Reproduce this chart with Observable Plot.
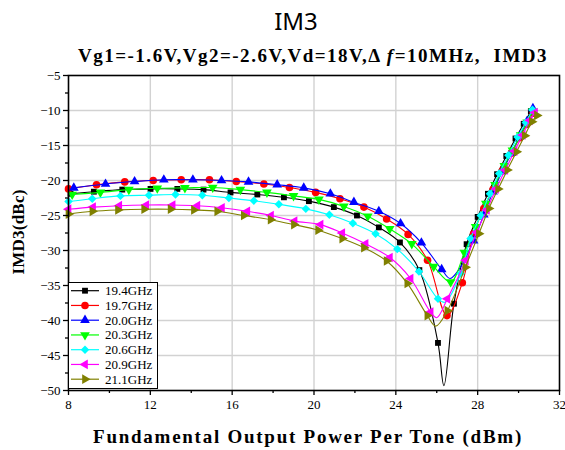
<!DOCTYPE html>
<html><head><meta charset="utf-8">
<script src="https://cdn.jsdelivr.net/npm/d3@7"></script>
<script src="https://cdn.jsdelivr.net/npm/@observablehq/plot@0.6"></script>
<style>
body{margin:0;background:#fff;}
#wrap{position:relative;width:565px;height:450px;overflow:hidden;background:#fff;}
.t{position:absolute;white-space:nowrap;color:#000;line-height:1;}
</style></head><body>
<div id="wrap"></div>
<script>
// ---- data ----
const xTicks = [8, 12, 16, 20, 24, 28, 32];
const xMinor = [10, 14, 18, 22, 26, 30];
const yTicks = [-5, -10, -15, -20, -25, -30, -35, -40, -45, -50];
const yMinor = [-7.5, -12.5, -17.5, -22.5, -27.5, -32.5, -37.5, -42.5, -47.5];
const xGrid = [12, 16, 20, 24, 28];
const yGrid = [-10, -15, -20, -25, -30, -35, -40, -45];

const labels = ["19.4GHz", "19.7GHz", "20.0GHz", "20.3GHz", "20.6GHz", "20.9GHz", "21.1GHz"];
const colors = ["#000000", "#ff0000", "#0000ff", "#00ff00", "#00ffff", "#ff00ff", "#808000"];

const p194 = [8.1, 9.24, 10.63, 12.01, 13.32, 14.6, 15.92, 17.23, 18.53, 19.75, 20.97, 22.1, 23.17, 24.2, 25.15, 26.06, 26.84, 27.46, 28.0, 28.5, 28.95, 29.4, 29.85, 30.25, 30.6];
const d194 = [-21.9, -21.6, -21.3, -21.2, -21.2, -21.3, -21.7, -22.0, -22.4, -22.95, -23.8, -25.0, -26.7, -28.85, -32.8, -43.2, -37.6, -29.1, -25.2, -21.9, -19.1, -16.5, -14.0, -11.9, -10.1];
const p194Dip = [26.35], d194Dip = [-49.3];

const p197 = [8.0, 9.37, 10.75, 12.14, 13.51, 14.89, 16.2, 17.55, 18.8, 20.08, 21.27, 22.44, 23.55, 24.6, 25.55, 26.5, 27.25, 27.8, 28.3, 28.75, 29.2, 29.65, 30.05, 30.4, 30.72];
const d197 = [-21.2, -20.6, -20.2, -20.0, -19.9, -19.9, -20.15, -20.5, -21.0, -21.7, -22.6, -23.8, -25.5, -27.7, -31.4, -39.3, -34.6, -27.6, -24.0, -21.3, -18.6, -16.1, -13.9, -12.0, -10.4];
const p197Dip = [], d197Dip = [];

const p200 = [8.26, 9.81, 11.23, 12.66, 14.08, 15.48, 16.8, 18.2, 19.5, 20.8, 21.95, 23.17, 24.23, 25.25, 26.24, 27.8, 28.3, 28.75, 29.2, 29.65, 30.05, 30.4, 30.7];
const d200 = [-21.05, -20.5, -20.15, -19.9, -19.9, -20.0, -20.2, -20.6, -21.05, -21.9, -23.1, -24.4, -26.15, -28.9, -32.7, -28.6, -24.9, -21.6, -18.7, -16.1, -13.7, -11.6, -9.7];
const p200Dip = [26.65, 27.2], d200Dip = [-34.0, -32.2];

const p203 = [8.18, 9.56, 10.95, 12.34, 13.69, 15.05, 16.4, 17.7, 19.0, 20.24, 21.46, 22.63, 23.7, 24.78, 25.85, 26.68, 27.35, 27.9, 28.4, 28.85, 29.3, 29.7, 30.1, 30.42, 30.7];
const d203 = [-22.0, -21.7, -21.3, -21.1, -21.05, -21.0, -21.3, -21.7, -22.2, -22.7, -23.7, -25.1, -26.9, -29.05, -32.3, -34.5, -30.3, -26.6, -23.3, -20.6, -17.9, -15.7, -13.5, -11.7, -10.1];
const p203Dip = [], d203Dip = [];

const p206 = [8.0, 9.16, 10.54, 11.93, 13.23, 14.54, 15.84, 17.06, 18.28, 19.6, 20.75, 21.9, 23.01, 24.07, 25.13, 26.06, 27.17, 27.65, 28.15, 28.6, 29.05, 29.5, 29.95, 30.35, 30.68];
const d206 = [-23.0, -22.6, -22.2, -22.1, -22.0, -22.1, -22.5, -22.9, -23.4, -24.05, -24.9, -26.1, -27.6, -29.8, -33.0, -36.9, -33.3, -28.3, -25.0, -21.9, -19.0, -16.4, -13.8, -11.7, -9.9];
const p206Dip = [26.4], d206Dip = [-37.4];

const p209 = [8.0, 9.2, 10.48, 11.8, 13.09, 14.3, 15.5, 16.74, 17.9, 19.05, 20.32, 21.38, 22.52, 23.71, 24.72, 25.7, 26.52, 27.42, 27.95, 28.45, 28.9, 29.35, 29.8, 30.2, 30.55, 30.8];
const d209 = [-24.1, -23.8, -23.6, -23.5, -23.5, -23.6, -23.9, -24.4, -25.0, -25.8, -26.3, -27.5, -29.05, -31.0, -34.0, -38.8, -36.9, -31.4, -27.4, -24.2, -21.2, -18.5, -15.8, -13.5, -11.4, -10.3];
const p209Dip = [26.0], d209Dip = [-39.6];

const p211 = [8.0, 9.17, 10.42, 11.7, 12.99, 14.13, 15.27, 16.57, 17.88, 19.02, 20.2, 21.38, 22.44, 23.55, 24.56, 25.54, 26.52, 27.4, 28.06, 28.55, 29.0, 29.45, 29.9, 30.3, 30.65, 30.9];
const d211 = [-24.8, -24.4, -24.2, -24.1, -24.1, -24.2, -24.4, -25.0, -25.6, -26.3, -27.1, -28.3, -29.6, -31.5, -34.7, -39.3, -38.6, -32.4, -27.6, -24.0, -21.2, -18.5, -15.9, -13.6, -11.6, -10.7];
const p211Dip = [25.95], d211Dip = [-40.8];

const symbols = ["square", "circle", "triangle", "triangle", "diamond2", "triangle", "triangle"];
const rotations = [0, 0, 0, 180, 0, -90, 90];
const sizes = [3.3, 3.8, 3.6, 3.6, 3.8, 3.6, 3.6];

// ---- build tables ----
const P = [p194, p197, p200, p203, p206, p209, p211];
const D = [d194, d197, d200, d203, d206, d209, d211];
const PD = [p194Dip, p197Dip, p200Dip, p203Dip, p206Dip, p209Dip, p211Dip];
const DD = [d194Dip, d197Dip, d200Dip, d203Dip, d206Dip, d209Dip, d211Dip];
const series = labels.map((name, i) => {
  const pts = P[i].map((x, j) => ({x, y: D[i][j]}));
  const line = pts.concat(PD[i].map((x, j) => ({x, y: DD[i][j]}))).sort((a, b) => a.x - b.x);
  return {name, color: colors[i], symbol: symbols[i], rotate: rotations[i], r: sizes[i], pts, line};
});

const gridStyle = {stroke: "#d2d2d2", strokeOpacity: 1, strokeWidth: 1.4};
const marks = [
  Plot.gridX(xGrid, gridStyle),
  Plot.gridY(yGrid, gridStyle)
];
series.forEach(s => {
  marks.push(Plot.line(s.line, {x: "x", y: "y", stroke: s.color, strokeWidth: 1.1, curve: "catmull-rom"}));
  marks.push(Plot.dot(s.pts, {x: "x", y: "y", symbol: s.symbol, rotate: s.rotate, r: s.r, fill: s.color, stroke: "none"}));
});
marks.push(
  Plot.frame({stroke: "#000", strokeWidth: 1.6}),
  Plot.axisX(xTicks, {tickSize: 5, tickPadding: 4, strokeWidth: 1.3, label: null, tickFormat: d => String(d)}),
  Plot.axisX(xMinor, {tickSize: 3, strokeWidth: 1.3, text: null, label: null}),
  Plot.axisY(yTicks, {tickSize: 5, tickPadding: 3, strokeWidth: 1.3, label: null}),
  Plot.axisY(yMinor, {tickSize: 3, strokeWidth: 1.3, text: null, label: null})
);

const chart = Plot.plot({
  width: 565, height: 450,
  marginTop: 75, marginRight: 6, marginBottom: 60, marginLeft: 68,
  x: {domain: [8, 32]},
  y: {domain: [-50, -5]},
  style: {fontFamily: "'Liberation Serif', serif", fontSize: "13px", color: "#000", background: "transparent", overflow: "visible"},
  marks
});
chart.style.position = "absolute";
chart.style.left = "0px";
chart.style.top = "0px";
const wrap = document.getElementById("wrap");
wrap.appendChild(chart);

// ---- texts ----
function addText(html, css) {
  const el = document.createElement("div");
  el.className = "t";
  el.innerHTML = html;
  Object.assign(el.style, css);
  wrap.appendChild(el);
  return el;
}
function fitWidth(el, target) {
  el.style.letterSpacing = "0px";
  const w = el.offsetWidth;
  const n = el.textContent.length;
  el.style.letterSpacing = ((target - w) / n) + "px";
}
const title = addText("IM3", {left: "296px", top: "20px", transform: "translate(-50%,-50%)", font: "24px 'Noto Sans', sans-serif"});
const sub = addText("Vg1=-1.6V,Vg2=-2.6V,Vd=18V,Δ <i>f</i>=10MHz,&nbsp;&nbsp;IMD3", {left: "313px", top: "56px", font: "bold 19px 'Liberation Serif', serif"});
fitWidth(sub, 470);
sub.style.transform = "translate(-50%,-50%)";
const xl = addText("Fundamental Output Power Per Tone (dBm)", {left: "308px", top: "437px", font: "bold 19px 'Liberation Serif', serif"});
fitWidth(xl, 430);
xl.style.transform = "translate(-50%,-50%)";
const yl = addText("IMD3(dBc)", {left: "19px", top: "232px", font: "bold 17px 'Liberation Serif', serif"});
fitWidth(yl, 85);
yl.style.transform = "translate(-50%,-50%) rotate(-90deg)";

// ---- legend ----
const symMap = {square: d3.symbolSquare, circle: d3.symbolCircle, triangle: d3.symbolTriangle, diamond2: d3.symbolDiamond2};
const leg = d3.select(wrap).append("svg")
  .attr("width", 90).attr("height", 107)
  .style("position", "absolute").style("left", "68px").style("top", "282px");
leg.append("rect").attr("x", 0.5).attr("y", 0.5).attr("width", 89).attr("height", 106)
  .attr("fill", "white").attr("stroke", "black").attr("stroke-width", 1);
series.forEach((s, i) => {
  const cy = 8.7 + i * 14.75;
  leg.append("line").attr("x1", 3).attr("x2", 31).attr("y1", cy).attr("y2", cy)
    .attr("stroke", s.color).attr("stroke-width", 1.2);
  leg.append("path").attr("d", d3.symbol(symMap[s.symbol], Math.PI * s.r * s.r)())
    .attr("transform", `translate(17,${cy}) rotate(${s.rotate})`).attr("fill", s.color);
  leg.append("text").attr("x", 37).attr("y", cy + 4.5).text(s.name)
    .attr("font-family", "'Liberation Serif', serif").attr("font-size", 13).attr("fill", "#000");
});
</script>
</body></html>
